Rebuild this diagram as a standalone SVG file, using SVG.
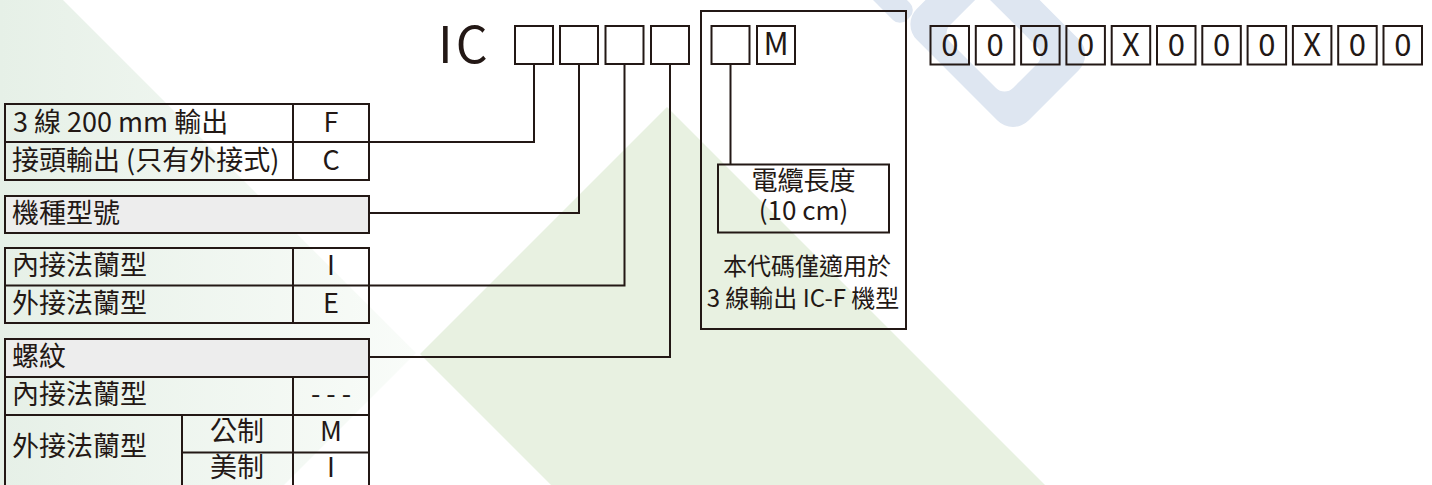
<svg xmlns="http://www.w3.org/2000/svg" width="1432" height="485" viewBox="0 0 1432 485">
<defs>
<linearGradient id="paleGreen" x1="0" y1="0" x2="416" y2="0" gradientUnits="userSpaceOnUse">
<stop offset="0" stop-color="#e6f0e7"/>
<stop offset="1" stop-color="#f9fcf9"/>
</linearGradient>
<style>
.ln{fill:none;stroke:#231815;stroke-width:2}
.cell{fill:none;stroke:#231815;stroke-width:2}
.hdr{fill:#ededed;stroke:#231815;stroke-width:2}
.box{fill:none;stroke:#231815;stroke-width:2}
.t{font-family:"Noto Sans CJK TC","Noto Sans CJK SC",sans-serif;fill:#231815;font-size:27px}
.c{text-anchor:middle}
.k{font-size:31px}
.s{font-size:24px}
.m{font-size:26px}
</style>
</defs>

<g id="background">
<rect width="1432" height="485" fill="#ffffff"/>
<polygon points="0,0 63,0 416,353 0,769" fill="url(#paleGreen)"/>
<polygon points="667,107 420,354 551,485 1045,485" fill="#e8f1e1"/>
<g fill="#dee6f1">
<path transform="translate(1013,136) rotate(-45)" fill-rule="evenodd" d="M22,-158 H93 A22,22 0 0 1 115,-136 V-22 A22,22 0 0 1 93,0 H22 A22,22 0 0 1 0,-22 V-136 A22,22 0 0 1 22,-158 Z M34,-123 H68 A12,12 0 0 1 80,-111 V-46 A12,12 0 0 1 68,-34 H34 A12,12 0 0 1 22,-46 V-111 A12,12 0 0 1 34,-123 Z"/>
<rect transform="translate(900,10) rotate(-45)" x="-12" y="-80" width="24" height="92" rx="10"/>
</g>
</g>

<g id="code-header">
<text class="t" x="438" y="63" style="font-size:50px;letter-spacing:3px">IC</text>
<rect class="box" x="515" y="26" width="38" height="38"/>
<rect class="box" x="560" y="26" width="38" height="38"/>
<rect class="box" x="605.5" y="26" width="38" height="38"/>
<rect class="box" x="651" y="26" width="38" height="38"/>
<rect class="box" x="711.5" y="26" width="38" height="38"/>
<rect class="box" x="757" y="26" width="38" height="38"/>
<text class="t c k" x="776" y="55">M</text>
</g>

<g id="serial-code">
<rect class="box" x="930.5" y="26" width="38.5" height="38.5"/>
<rect class="box" x="975.8" y="26" width="38.5" height="38.5"/>
<rect class="box" x="1021.1" y="26" width="38.5" height="38.5"/>
<rect class="box" x="1066.4" y="26" width="38.5" height="38.5"/>
<rect class="box" x="1111.7" y="26" width="38.5" height="38.5"/>
<rect class="box" x="1157" y="26" width="38.5" height="38.5"/>
<rect class="box" x="1202.3" y="26" width="38.5" height="38.5"/>
<rect class="box" x="1247.6" y="26" width="38.5" height="38.5"/>
<rect class="box" x="1292.9" y="26" width="38.5" height="38.5"/>
<rect class="box" x="1338.2" y="26" width="38.5" height="38.5"/>
<rect class="box" x="1383.5" y="26" width="38.5" height="38.5"/>
<text class="t c k" x="949.75" y="55.5">0</text>
<text class="t c k" x="995.05" y="55.5">0</text>
<text class="t c k" x="1040.35" y="55.5">0</text>
<text class="t c k" x="1085.65" y="55.5">0</text>
<text class="t c k" x="1130.95" y="55.5">X</text>
<text class="t c k" x="1176.25" y="55.5">0</text>
<text class="t c k" x="1221.55" y="55.5">0</text>
<text class="t c k" x="1266.85" y="55.5">0</text>
<text class="t c k" x="1312.15" y="55.5">X</text>
<text class="t c k" x="1357.45" y="55.5">0</text>
<text class="t c k" x="1402.75" y="55.5">0</text>
</g>

<g id="output-table">
<rect class="cell" x="5" y="104" width="364" height="76"/>
<line class="ln" x1="5" y1="142" x2="369" y2="142"/>
<line class="ln" x1="293" y1="104" x2="293" y2="180"/>
<text class="t" x="13" y="132">3 線 200 mm 輸出</text>
<text class="t c" x="331" y="132">F</text>
<text class="t" x="12" y="170">接頭輸出 (只有外接式)</text>
<text class="t c" x="331" y="170">C</text>
</g>

<g id="model-table">
<rect class="hdr" x="5" y="196" width="364" height="37"/>
<text class="t" x="12" y="223">機種型號</text>
</g>

<g id="flange-table">
<rect class="cell" x="5" y="248" width="364" height="75"/>
<line class="ln" x1="5" y1="285.5" x2="369" y2="285.5"/>
<line class="ln" x1="293" y1="248" x2="293" y2="323"/>
<text class="t" x="12" y="275">內接法蘭型</text>
<text class="t c" x="331" y="275">I</text>
<text class="t" x="12" y="313">外接法蘭型</text>
<text class="t c" x="331" y="313">E</text>
</g>

<g id="thread-table">
<rect class="cell" x="5" y="339" width="364" height="151"/>
<rect class="hdr" x="5" y="339" width="364" height="38"/>
<line class="ln" x1="5" y1="415" x2="369" y2="415"/>
<line class="ln" x1="182" y1="452.5" x2="369" y2="452.5"/>
<line class="ln" x1="293" y1="377" x2="293" y2="490"/>
<line class="ln" x1="182" y1="415" x2="182" y2="490"/>
<text class="t" x="12" y="366">螺紋</text>
<text class="t" x="12" y="404">內接法蘭型</text>
<text class="t c" x="331" y="404">- - -</text>
<text class="t" x="12" y="456">外接法蘭型</text>
<text class="t c" x="237" y="441">公制</text>
<text class="t c" x="331" y="441">M</text>
<text class="t c" x="237" y="477">美制</text>
<text class="t c" x="331" y="477">I</text>
</g>

<g id="cable-note">
<rect class="box" x="701" y="11" width="205" height="318"/>
<rect class="box" x="718" y="164.5" width="171" height="68"/>
<text class="t c m" x="803.5" y="190">電纜長度</text>
<text class="t c m" x="803.5" y="220">(10 cm)</text>
<text class="t c s" x="807" y="275">本代碼僅適用於</text>
<text class="t c s" x="803" y="307">3 線輸出 IC-F 機型</text>
</g>

<g id="connectors">
<polyline class="ln" points="534,64 534,142 369,142"/>
<polyline class="ln" points="579,64 579,213 369,213"/>
<polyline class="ln" points="624.5,64 624.5,285.5 369,285.5"/>
<polyline class="ln" points="670,64 670,357 369,357"/>
<line class="ln" x1="730.5" y1="64" x2="730.5" y2="164.5"/>
</g>
</svg>
